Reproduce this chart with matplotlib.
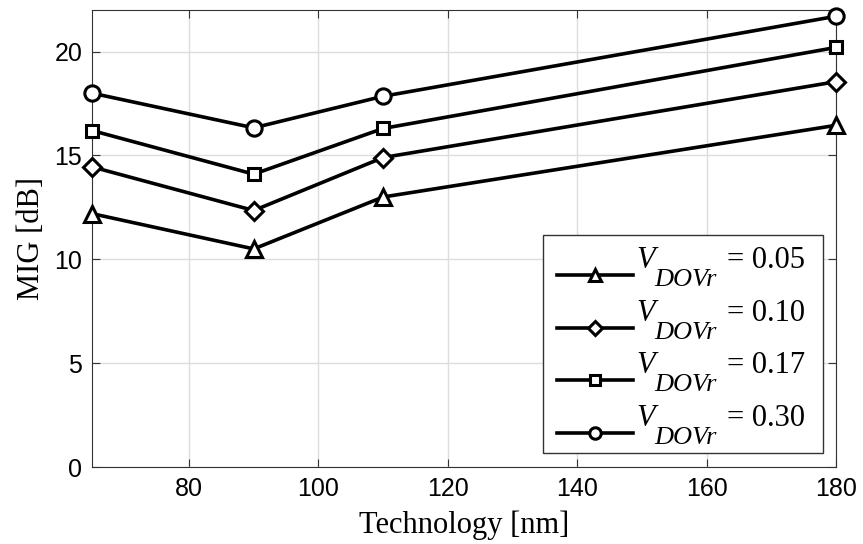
import numpy as np
import matplotlib.pyplot as plt
from matplotlib.patches import Rectangle

# technology node [nm]
tech = [65, 90, 110, 180]

# MIG [dB] for each V_DOVr
mig_005 = [12.2, 10.5, 13.0, 16.45]
mig_010 = [14.45, 12.35, 14.9, 18.55]
mig_017 = [16.2, 14.1, 16.3, 20.2]
mig_030 = [18.0, 16.33, 17.85, 21.7]

labels = ["0.05", "0.10", "0.17", "0.30"]
markers = ["^", "D", "s", "o"]
sizes = [11, 9, 9, 11]

plt.rcParams['mathtext.fontset'] = 'custom'
plt.rcParams['mathtext.rm'] = 'Liberation Serif'
plt.rcParams['mathtext.it'] = 'Liberation Serif:italic'

fig = plt.figure(figsize=(8.63, 5.44), dpi=100)
ax = fig.add_axes([0.1066, 0.1415, 0.862, 0.84])

for y, m, ms in zip([mig_005, mig_010, mig_017, mig_030], markers, sizes):
    ax.plot(tech, y, color='black', lw=2.6, marker=m, markersize=ms,
            markerfacecolor='white', markeredgewidth=2.2, clip_on=False, zorder=3,
            label=r"$\mathit{V}$")

ax.set_xlim(65, 180)
ax.set_ylim(0, 22)
ax.set_xticks([80, 100, 120, 140, 160, 180])
ax.set_yticks([0, 5, 10, 15, 20])
ax.grid(True, color='#dcdcdc', lw=1)
ax.set_axisbelow(True)
ax.tick_params(direction='in', top=True, right=True, length=6, pad=7,
               labelsize=18, color='#333333')
for t in ax.get_xticklabels() + ax.get_yticklabels():
    t.set_fontfamily('Liberation Sans')
for s in ax.spines.values():
    s.set_color('#333333')

ax.set_xlabel("Technology [nm]", fontfamily='Liberation Serif', fontsize=22, labelpad=7)
ax.set_ylabel("MIG [dB]", fontfamily='Liberation Serif', fontsize=22, labelpad=6)

# legend box (MATLAB style, subscript hangs low)
ax.add_patch(Rectangle((0.606, 0.0306), 0.3765, 0.4771, transform=ax.transAxes,
                       facecolor='white', edgecolor='#333333', lw=1, zorder=4.5))
leg = ax.legend(loc='upper left', bbox_to_anchor=(0.625, 0.4836), frameon=False,
                prop={'family': 'Liberation Serif', 'size': 22},
                borderpad=0, borderaxespad=0, handlelength=2.48, labelspacing=0.77,
                handletextpad=0.12, markerscale=0.75)
leg.set_zorder(5)
for h in leg.legend_handles:
    h.set_ydata(np.asarray(h.get_ydata()) - 12.7)
for t, lab in zip(leg.get_texts(), labels):
    ax.annotate("DOVr", xy=(0, 0), xycoords=t, xytext=(13, -8.2), textcoords='offset points',
                ha='left', va='baseline', fontsize=19, fontstyle='italic',
                fontfamily='Liberation Serif', zorder=6)
    ax.annotate("= " + lab, xy=(0, 0), xycoords=t, xytext=(65.5, 4.8), textcoords='offset points',
                ha='left', va='baseline', fontsize=22,
                fontfamily='Liberation Serif', zorder=6)

plt.savefig("out.png", dpi=100)
